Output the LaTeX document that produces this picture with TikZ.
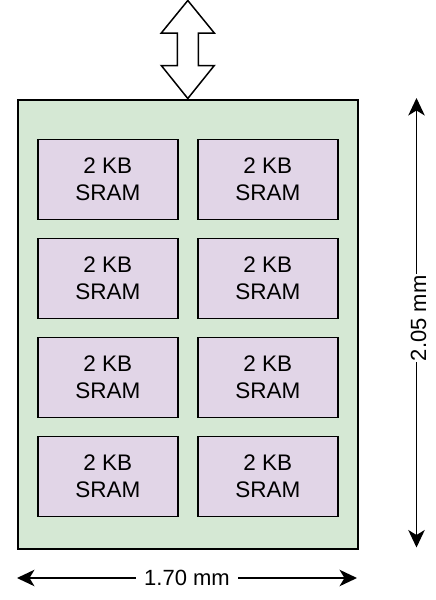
\documentclass[tikz,border=0pt]{standalone}
\usepackage{fontspec}
\setmainfont{Liberation Sans}
\usetikzlibrary{arrows.meta}
\definecolor{chipgreen}{HTML}{D5E8D4}
\definecolor{srampurple}{HTML}{E1D5E7}
\begin{document}
\begin{tikzpicture}[x=1pt,y=-1pt,line width=1.6pt,
  chip/.style={draw,fill=chipgreen,minimum width=340pt,minimum height=449pt,inner sep=0pt,anchor=north west},
  sram/.style={draw,fill=srampurple,minimum width=140pt,minimum height=80pt,inner sep=0pt,anchor=north west,align=center,font=\fontsize{22.5}{27}\selectfont},
  dimtip/.tip={Stealth[length=17.5pt,width=16.5pt,inset=5pt]},
  dimline/.style={line width=1.4pt,dimtip-dimtip},
  dimlabel/.style={fill=white,font=\fontsize{22}{27}\selectfont,inner ysep=2pt},
  busarrow/.style={draw,fill=white,line width=1.5pt,line join=miter}]
\useasboundingbox (0,0) rectangle (436,600);
\node[chip] (chip) at (17,99) {};
\foreach \r/\y in {1/138.5,2/237.5,3/336.5,4/435.5}{
  \node[sram] (s\r a) at (37,\y) {2 KB\\SRAM};
  \node[sram] (s\r b) at (197,\y) {2 KB\\SRAM};
}
% double-headed bus arrow on top of the chip
\path[busarrow] (chip.north) ++(0,-0.5)
  -- ++(-26.5,-33) -- ++(16,0) -- ++(0,-32.5) -- ++(-16,0)
  -- ++(26.5,-32.5) -- ++(26.5,32.5) -- ++(-16,0) -- ++(0,32.5)
  -- ++(16,0) -- cycle;
% width dimension
\coordinate (wl) at (17,578);
\coordinate (wr) at (357,578);
\draw[dimline] (wl) -- node[dimlabel,inner xsep=8pt] (wlab) {1.70 mm} (wr);
% height dimension
\coordinate (ht) at (416.5,98);
\coordinate (hb) at (416.5,547.5);
\draw[dimline] (hb) -- node[dimlabel,inner xsep=1pt,rotate=90,pos=0.51,yshift=-2pt] (hlab) {2.05 mm} (ht);
\end{tikzpicture}
\end{document}
